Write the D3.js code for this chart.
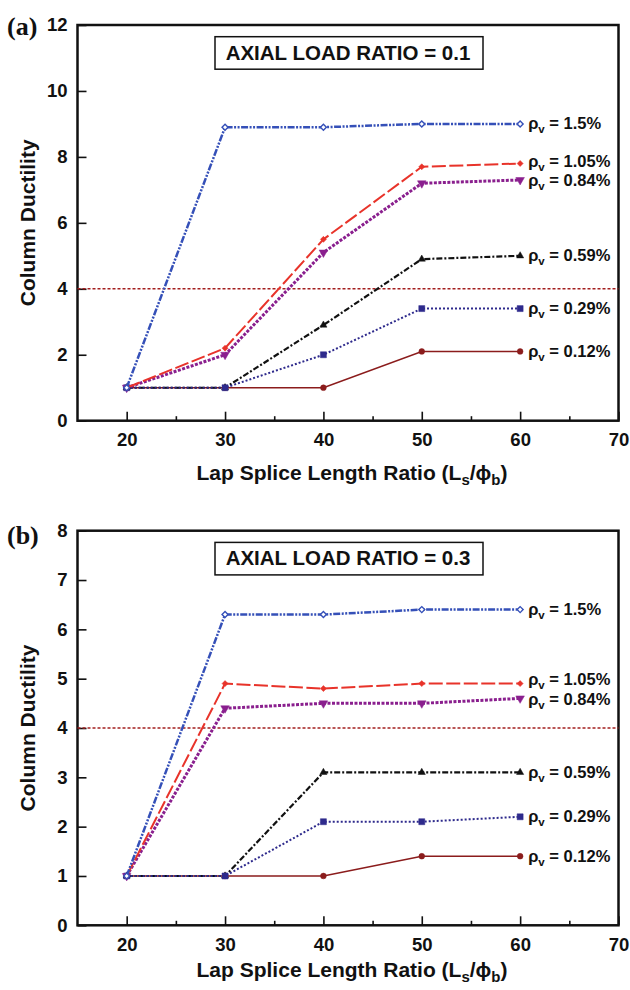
<!DOCTYPE html>
<html>
<head>
<meta charset="utf-8">
<script src="https://cdn.jsdelivr.net/npm/d3@7"></script>
<style>
  body { margin: 0; background: #fff; }
  text { font-family: "Liberation Sans", Arial, sans-serif; font-weight: bold; fill: #111; }
</style>
</head>
<body>
<script>
// chart values
const lapRatios = [20, 30, 40, 50, 60];
const rhoLabels = ["1.5%", "1.05%", "0.84%", "0.59%", "0.29%", "0.12%"];
const ductilityA = [
  [1, 8.9, 8.9, 9.0, 9.0],
  [1, 2.2, 5.5, 7.7, 7.8],
  [1, 2.0, 5.1, 7.2, 7.3],
  [1, 1, 2.9, 4.9, 5.0],
  [1, 1, 2.0, 3.4, 3.4],
  [1, 1, 1, 2.1, 2.1]
];
const ductilityB = [
  [1, 6.3, 6.3, 6.4, 6.4],
  [1, 4.9, 4.8, 4.9, 4.9],
  [1, 4.4, 4.5, 4.5, 4.6],
  [1, 1, 3.1, 3.1, 3.1],
  [1, 1, 2.1, 2.1, 2.2],
  [1, 1, 1, 1.4, 1.4]
];
const yTicksA = [0, 2, 4, 6, 8, 10, 12];
const yTicksB = [0, 1, 2, 3, 4, 5, 6, 7, 8];
const xTicks = [20, 30, 40, 50, 60, 70];
const xMinorTicks = [25, 35, 45, 55, 65];
const targetDuctility = 4;

// line styles per series (same order as rhoLabels)
const seriesStyle = [
  { color: "#3550b8", dash: "7,1.5,2,1.5,2,1.5", width: 2.5, symbol: "diamond", open: true, size: 18 },
  { color: "#e8332a", dash: "14,3.5", width: 2, symbol: "diamond", open: false, size: 18 },
  { color: "#8a1f8e", dash: "3,1.5", width: 3, symbol: "triangleDown", open: false, size: 32 },
  { color: "#111111", dash: "6,2,2,2", width: 2.2, symbol: "triangle", open: false, size: 22 },
  { color: "#2e2a8c", dash: "2,2", width: 2, symbol: "square", open: false, size: 36 },
  { color: "#8b1c1c", dash: null, width: 1.6, symbol: "circle", open: false, size: 26 }
];
const drawOrder = [5, 3, 4, 2, 1, 0];

const width = 630, height = 990;
const left = 77.5, right = 618.5;

const svg = d3.select("body").append("svg")
  .attr("width", width)
  .attr("height", height);

svg.append("rect").attr("width", width).attr("height", height).attr("fill", "#fff");

function symbolPath(s) {
  if (s.symbol === "diamond" || s.symbol === "square") return d3.symbol(d3.symbolSquare, s.size)();
  if (s.symbol === "circle") return d3.symbol(d3.symbolCircle, s.size)();
  return d3.symbol(d3.symbolTriangle, s.size)();
}
function symbolRotate(s) {
  if (s.symbol === "diamond") return 45;
  if (s.symbol === "triangleDown") return 180;
  return 0;
}

function drawPanel(p) {
  const { top, bottom, yMax, yTicks, values, letter, loadRatio } = p;
  const g = svg.append("g");

  const x = d3.scaleLinear().domain([15, 70]).range([left, right]);
  const y = d3.scaleLinear().domain([0, yMax]).range([bottom, top]);

  // major x ticks with labels (pointing inward)
  const xAxis = g.append("g")
    .attr("transform", `translate(0,${bottom})`)
    .call(d3.axisBottom(x).tickValues(xTicks).tickSize(-9).tickPadding(12.5).tickFormat(d3.format("d")));
  // minor x ticks
  const xMinor = g.append("g")
    .attr("transform", `translate(0,${bottom})`)
    .call(d3.axisBottom(x).tickValues(xMinorTicks).tickSize(-4.5).tickFormat(""));
  const yAxis = g.append("g")
    .attr("transform", `translate(${left},0)`)
    .call(d3.axisLeft(y).tickValues(yTicks).tickSize(-9).tickPadding(10));

  [xAxis, xMinor, yAxis].forEach(a => {
    a.select(".domain").remove();
    a.selectAll("line").attr("stroke", "#111").attr("stroke-width", 1.6);
    a.selectAll("text")
      .attr("font-size", 18.5)
      .attr("font-family", "'Liberation Sans', Arial, sans-serif")
      .attr("font-weight", "bold")
      .attr("fill", "#111");
  });

  // plot frame
  g.append("rect")
    .attr("x", left).attr("y", top)
    .attr("width", right - left).attr("height", bottom - top)
    .attr("fill", "none")
    .attr("stroke", "#111")
    .attr("stroke-width", 2.5);

  // target ductility line
  g.append("line")
    .attr("x1", left).attr("x2", right)
    .attr("y1", y(targetDuctility)).attr("y2", y(targetDuctility))
    .attr("stroke", "#a31f1f")
    .attr("stroke-width", 1.4)
    .attr("stroke-dasharray", "3,2");

  const line = d3.line().x((d, i) => x(lapRatios[i])).y(d => y(d));

  drawOrder.forEach(k => {
    const s = seriesStyle[k];
    g.append("path")
      .datum(values[k])
      .attr("d", line)
      .attr("fill", "none")
      .attr("stroke", s.color)
      .attr("stroke-width", s.width)
      .attr("stroke-dasharray", s.dash);

    g.selectAll(null)
      .data(values[k])
      .enter()
      .append("path")
      .attr("d", symbolPath(s))
      .attr("transform", (d, i) => `translate(${x(lapRatios[i])},${y(d)}) rotate(${symbolRotate(s)})`)
      .attr("fill", s.open ? "#fff" : s.color)
      .attr("stroke", s.color)
      .attr("stroke-width", s.open ? 1.4 : 0.5);
  });

  // series labels, nudged a little where two of them sit close
  rhoLabels.forEach((lab, k) => {
    const last = values[k][values[k].length - 1];
    const t = g.append("text")
      .attr("x", x(60) + 8)
      .attr("y", y(last) + 5.5 + p.labelNudge[k])
      .attr("font-size", 16.5);
    t.append("tspan").text("ρ");
    t.append("tspan").attr("font-size", 11.5).attr("dy", 4).text("v");
    t.append("tspan").attr("dy", -4).text(" = " + lab);
  });

  // load ratio box
  g.append("rect")
    .attr("x", 215).attr("y", top + 11.7)
    .attr("width", 268).attr("height", 32.5)
    .attr("fill", "#fff")
    .attr("stroke", "#111")
    .attr("stroke-width", 1.5);
  g.append("text")
    .attr("x", 348).attr("y", top + 34.5)
    .attr("text-anchor", "middle")
    .attr("font-size", 20.5)
    .text("AXIAL LOAD RATIO = " + loadRatio);

  // panel letter
  g.append("text")
    .attr("x", 7).attr("y", p.letterY)
    .attr("font-size", 26)
    .style("font-family", "'Liberation Serif', 'Times New Roman', serif")
    .text("(" + letter + ")");

  // y title
  g.append("text")
    .attr("transform", `translate(35,${(top + bottom) / 2}) rotate(-90)`)
    .attr("text-anchor", "middle")
    .attr("font-size", 21)
    .text("Column Ductility");

  // x title
  const xt = g.append("text")
    .attr("x", (left + right) / 2 + 4)
    .attr("y", bottom + p.titleGap)
    .attr("text-anchor", "middle")
    .attr("font-size", 21);
  xt.append("tspan").text("Lap Splice Length Ratio (L");
  xt.append("tspan").attr("font-size", 15).attr("dy", 5).text("s");
  xt.append("tspan").attr("dy", -5).text("/ϕ");
  xt.append("tspan").attr("font-size", 15).attr("dy", 5).text("b");
  xt.append("tspan").attr("dy", -5).text(")");
}

drawPanel({ top: 25, bottom: 420.7, yMax: 12, yTicks: yTicksA, values: ductilityA,
  letter: "a", loadRatio: "0.1", letterY: 35, titleGap: 59, labelNudge: [0, -2, 1, 0, 0, 0] });
drawPanel({ top: 530.7, bottom: 925.3, yMax: 8, yTicks: yTicksB, values: ductilityB,
  letter: "b", loadRatio: "0.3", letterY: 544, titleGap: 51.5, labelNudge: [0, -4, 1, 0, 0, 0] });
</script>
</body>
</html>
